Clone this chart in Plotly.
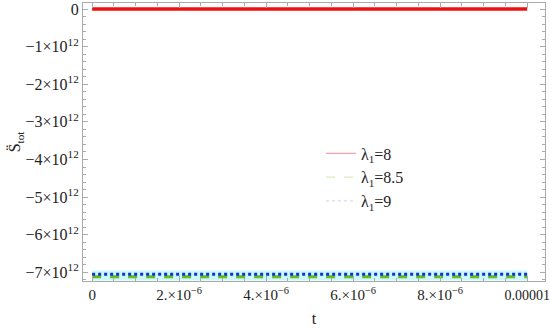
import plotly.graph_objects as go

# time axis and the three constant curves
t = [0, 0.00001]
s_l8 = [0, 0]
s_l85 = [-7.12e12, -7.12e12]
s_l9 = [-7.05e12, -7.05e12]
names = ['λ<sub>1</sub>=8', 'λ<sub>1</sub>=8.5', 'λ<sub>1</sub>=9']

ytick_vals = [0, -1e12, -2e12, -3e12, -4e12, -5e12, -6e12, -7e12]
ytick_text = ['0'] + ['−%d×10<sup>12</sup>' % k for k in range(1, 8)]
xtick_vals = [0, 2e-6, 4e-6, 6e-6, 8e-6, 1e-5]
xtick_text = ['0', '2.×10<sup>−6</sup>', '4.×10<sup>−6</sup>',
              '6.×10<sup>−6</sup>', '8.×10<sup>−6</sup>',
              '<span style="font-size:14px">0.00001</span>']

SERIF = 'Liberation Serif, Times New Roman, serif'

fig = go.Figure()
# pale halo behind the bottom curves
fig.add_trace(go.Scatter(x=t, y=[-7.085e12, -7.085e12], mode='lines',
                         line=dict(color='rgba(190,245,250,0.8)', width=10),
                         showlegend=False, hoverinfo='skip'))
fig.add_trace(go.Scatter(x=t, y=s_l8, mode='lines', showlegend=False,
                         line=dict(color='#ee1111', width=3.5)))
fig.add_trace(go.Scatter(x=t, y=s_l85, mode='lines', showlegend=False,
                         line=dict(color='#66bb22', width=3, dash='dash')))
fig.add_trace(go.Scatter(x=t, y=s_l9, mode='lines', showlegend=False,
                         line=dict(color='#1133cc', width=3, dash='dot')))

# pale legend entries like the original
for nm, col, dash in zip(names, ['#f5a0b0', '#d8ecc0', '#d0dcf0'],
                         ['solid', 'dash', 'dot']):
    fig.add_trace(go.Scatter(x=[None], y=[None], mode='lines', name=nm,
                             line=dict(color=col, width=1.2, dash=dash)))

axis_common = dict(showgrid=False, zeroline=False, showline=True,
                   linecolor='#aaaaaa', linewidth=1, mirror='allticks',
                   ticks='inside', ticklen=5, tickcolor='#aaaaaa',
                   automargin=False, ticklabeloverflow='allow')

fig.update_xaxes(range=[-0.21e-6, 10.41e-6], tickvals=xtick_vals,
                 ticktext=xtick_text,
                 tickfont=dict(family=SERIF, size=15, color='#222'),
                 minor=dict(ticks='inside', ticklen=3, dtick=0.5e-6,
                            tickcolor='#aaaaaa'),
                 title=dict(text='t', standoff=10,
                            font=dict(family=SERIF, size=16, color='#222')),
                 **axis_common)
fig.update_yaxes(range=[-7.23e12, 0.16e12], tickvals=ytick_vals,
                 ticktext=ytick_text,
                 tickfont=dict(family=SERIF, size=16, color='#222'),
                 minor=dict(ticks='inside', ticklen=3, dtick=0.2e12,
                            tickcolor='#aaaaaa'),
                 title=dict(text='S\u0308<sub>tot</sub>', standoff=0,
                            font=dict(family=SERIF, size=16, color='#222')),
                 **axis_common)

fig.update_layout(
    width=550, height=329,
    margin=dict(l=83, r=5, t=3, b=48),
    plot_bgcolor='white', paper_bgcolor='white',
    font=dict(family=SERIF),
    legend=dict(x=0.515, y=0.52, xanchor='left', yanchor='top',
                bgcolor='rgba(0,0,0,0)', tracegroupgap=2, itemwidth=30,
                font=dict(family=SERIF, size=16, color='#222')),
)

# the page body has a default 8px margin, drop it so the figure sits at 0,0
fig.write_html('out.html', config={'displayModeBar': False},
               post_script="document.body.style.margin='0';")
